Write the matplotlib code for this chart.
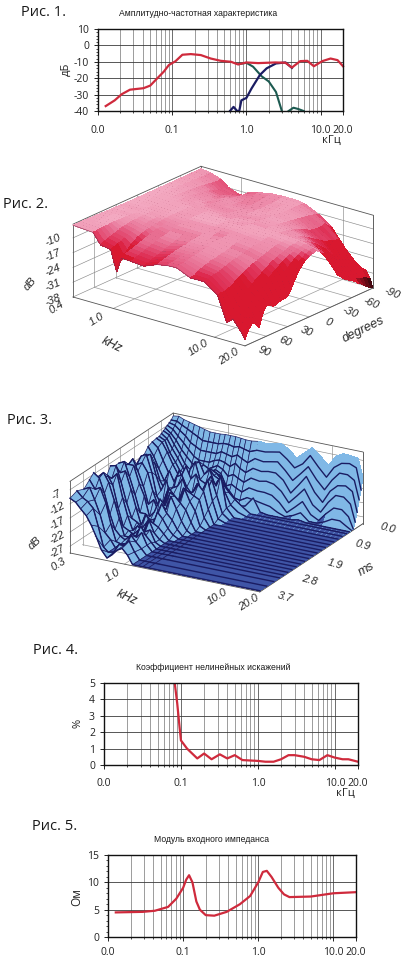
import numpy as np
import matplotlib
matplotlib.use('Agg')
import matplotlib.pyplot as plt
from matplotlib.colors import LinearSegmentedColormap, to_rgba
from matplotlib.ticker import FixedLocator, NullFormatter
from mpl_toolkits.mplot3d import proj3d

W, H = 414, 959
plt.rcParams['font.family'] = ['Liberation Sans', 'DejaVu Sans']
plt.rcParams['axes.unicode_minus'] = False
plt.rcParams['hatch.linewidth'] = 0.35
plt.rcParams['hatch.color'] = '#5f97d0'

# fig 1: frequency response
resp_f = [0.0127, 0.0168, 0.0208, 0.027, 0.041, 0.0506, 0.0625, 0.077, 0.09, 0.111, 0.137, 0.178, 0.243, 0.33,
          0.45, 0.62, 0.77, 1.0, 1.44, 2.45, 3.36, 4.1, 5.3, 6.6, 8.1, 10.5, 13.6, 16.9, 20]
resp_db = [-37, -33.5, -29.8, -27, -26.1, -24.5, -20.2, -16, -12, -9.6, -5.7, -5.3, -5.9, -8,
           -9.4, -10, -11.6, -10.4, -10.8, -10.4, -10.6, -13.5, -9.6, -9.4, -12.7, -9.6, -8, -9, -12.7]
mid_f = [0.6, 0.67, 0.75, 0.8, 0.855, 1.0, 1.17, 1.52, 1.87, 2.5, 3.36, 4.1]
mid_db = [-40, -37.5, -40, -40, -33.5, -32, -26.3, -18, -14, -11, -10.4, -13.7]
woof_f = [0.8, 1.0, 1.23, 1.6, 2.0, 2.5, 3.0]
woof_db = [-11.4, -10.6, -13, -18.8, -22, -28.4, -40]
woof2_f = [3.7, 4.3, 5.0, 5.9]
woof2_db = [-40, -38, -38.8, -40]

# fig 4: distortion
thd_f = [0.083, 0.0895, 0.096, 0.1, 0.12, 0.163, 0.2, 0.25, 0.32, 0.4, 0.5, 0.63, 1.0, 1.25, 1.6, 2, 2.5, 3, 4,
         5, 6.3, 8, 10, 12.6, 15, 20]
thd_pct = [5, 3.75, 2.3, 1.5, 1.0, 0.4, 0.7, 0.35, 0.65, 0.4, 0.6, 0.3, 0.25, 0.2, 0.2, 0.35, 0.6, 0.6, 0.5,
           0.35, 0.3, 0.6, 0.45, 0.35, 0.35, 0.2]

# fig 5: impedance
imp_f = [0.0127, 0.029, 0.042, 0.063, 0.081, 0.1, 0.11, 0.12, 0.133, 0.15, 0.167, 0.2, 0.26, 0.38, 0.57, 0.78,
         1.0, 1.15, 1.3, 1.5, 1.85, 2.2, 2.6, 5, 10, 20]
imp_ohm = [4.5, 4.6, 4.8, 5.5, 7, 9, 10.5, 11.3, 10, 6.5, 5, 4, 3.9, 4.6, 6, 7.5, 10, 11.9, 12.1, 11, 9, 7.8,
           7.3, 7.4, 8, 8.2]

# fig 2: directivity, one row per angle
dir_f = [0.4, 0.5, 0.63, 0.75, 0.94, 1.08, 1.2, 1.5, 2, 2.7, 3.4, 4.2, 5.8, 7.9, 10.7, 13.2, 15.2, 17, 18.5, 20]
dir_deg = [90, 85, 80, 75, 70, 65, 60, 55, 50, 45, 40, 35, 30, 25, 20, 15, 10, 5, 0,
           -5, -10, -15, -20, -25, -30, -35, -40, -45, -50, -55, -60, -65, -70, -75, -80, -85, -90]
dir_db = [
    [-8.4, -8.7, -9, -13.3, -14, -22.6, -16.3, -16.5, -17, -14.8, -14, -13.8, -16.4, -16.3, -20.3, -30.6, -28.3, -31, -33, -35.4],
    [-8.4, -8.7, -9, -12.5, -13.5, -19, -15.5, -16, -16.5, -14.5, -13.8, -13.5, -15.8, -16, -20, -29, -28.5, -30, -30, -32],
    [-8.4, -8.6, -8.8, -12, -13, -17, -15, -15.5, -16, -14, -13.5, -13.2, -15, -15.5, -20, -27, -28, -29, -28, -30],
    [-8.4, -8.6, -8.7, -11.5, -12.5, -15.5, -14.5, -15, -15.5, -13.6, -13.2, -12.9, -14.5, -15.3, -19.5, -25.5, -27, -28.5, -29, -31],
    [-8.5, -8.6, -8.6, -11, -12, -14, -14, -14.5, -15, -13.2, -13, -12.6, -14, -15, -19, -24, -26, -28, -31, -33],
    [-8.5, -8.6, -8.6, -10.5, -11.5, -13, -13.5, -14, -14.5, -12.8, -12.7, -12.3, -13.5, -14.5, -18, -22.5, -24.5, -26.5, -28, -28],
    [-8.6, -8.6, -8.6, -10, -11, -12, -13, -13.5, -14, -12.5, -12.5, -12, -13, -14, -17, -21, -23, -25, -25, -25.4],
    [-8.6, -8.6, -8.6, -9.7, -10.7, -11.5, -12.5, -13, -13.5, -12.2, -12.2, -11.8, -12.8, -13.5, -16, -19.5, -21.8, -24, -25.5, -26],
    [-8.7, -8.6, -8.7, -9.5, -10.5, -11, -12, -12.5, -13, -12, -12, -11.5, -12.5, -13, -15.5, -18.5, -20.5, -23, -26, -27],
    [-8.7, -8.6, -8.7, -9.3, -10.2, -10.7, -11.5, -12.2, -12.5, -11.7, -11.7, -11.2, -12.2, -12.7, -14.7, -17.5, -19.2, -22, -25, -26.5],
    [-8.8, -8.7, -8.8, -9.2, -10, -10.5, -11, -12, -12, -11.5, -11.5, -11, -12, -12.5, -14, -16.5, -18, -21, -24, -26],
    [-8.8, -8.8, -8.9, -9.1, -9.7, -10.2, -10.8, -11.5, -11.5, -11.2, -11.2, -10.7, -11.5, -12, -13.5, -15.5, -17, -19.8, -23.5, -25.8],
    [-8.8, -8.8, -9, -9, -9.5, -10, -10.5, -11, -11, -11, -11, -10.5, -11, -11.5, -13, -14.5, -16, -18.5, -23, -25.6],
    [-8.9, -8.9, -9, -9.1, -9.5, -9.8, -10.2, -10.7, -10.7, -10.7, -10.5, -10.2, -10.7, -11.2, -12.5, -13.7, -15, -17.2, -20.5, -23],
    [-9, -9, -9, -9.2, -9.5, -9.6, -10, -10.5, -10.5, -10.5, -10, -10, -10.5, -11, -12, -13, -14, -16, -18, -20],
    [-9, -9, -9.1, -9.2, -9.5, -9.5, -10, -10.2, -10.2, -10.2, -9.7, -9.7, -10.2, -10.7, -11.5, -12.5, -13.2, -14.7, -16, -17.5],
    [-9, -9, -9.2, -9.3, -9.5, -9.5, -10, -10, -10, -10, -9.5, -9.5, -10, -10.5, -11, -12, -12.5, -13.5, -14.5, -15.5],
    [-9, -9, -9.2, -9.3, -9.5, -9.5, -9.9, -10, -10, -9.9, -9.5, -9.5, -10, -10.2, -10.7, -11.5, -12, -12.7, -13.5, -14],
    [-9, -9, -9.2, -9.3, -9.5, -9.5, -9.8, -10, -10, -9.8, -9.5, -9.5, -10, -10, -10.5, -11, -11.5, -12, -12.5, -13],
    [-9, -9, -9.2, -9.3, -9.5, -9.5, -9.8, -10, -10, -9.9, -9.6, -9.5, -10, -10, -10.5, -10.7, -11.2, -11.7, -12, -12.5],
    [-9, -9, -9.2, -9.3, -9.5, -9.5, -9.8, -10, -10, -10, -9.8, -9.5, -10, -10, -10.5, -10.5, -11, -11.5, -11.5, -12],
    [-9, -9, -9.2, -9.3, -9.6, -9.6, -9.9, -10.1, -10.2, -10.1, -9.9, -9.7, -10.1, -10.2, -10.7, -11, -11.5, -12.2, -12.5, -13],
    [-9, -9, -9.2, -9.4, -9.8, -9.8, -10, -10.2, -10.5, -10.2, -10, -10, -10.2, -10.5, -11, -11.5, -12, -13, -13.5, -14],
    [-9, -9, -9.2, -9.5, -9.9, -9.9, -10.2, -10.5, -10.7, -10.5, -10.2, -10.1, -10.3, -10.7, -11.5, -12.5, -13.5, -15, -16, -17],
    [-9, -9, -9.3, -9.6, -10, -10, -10.5, -10.8, -11, -10.8, -10.5, -10.3, -10.5, -11, -12, -13.5, -15, -17, -18.5, -20],
    [-9, -9, -9.4, -9.8, -10.2, -10.4, -10.7, -11.2, -11.2, -10.9, -10.6, -10.4, -10.7, -11.5, -13, -14.7, -16.7, -19, -21, -23],
    [-9, -9.1, -9.5, -10, -10.5, -10.8, -11, -11.5, -11.5, -11, -10.8, -10.5, -11, -12, -14, -16, -18.5, -21, -24, -26],
    [-9, -9.1, -9.6, -10.2, -10.7, -11.1, -11.2, -11.7, -11.7, -11, -10.9, -10.6, -11.2, -12.7, -15, -17.5, -20, -23, -25.5, -27.5],
    [-9, -9.2, -9.8, -10.5, -11, -11.5, -11.5, -12, -12, -11, -11, -10.8, -11.5, -13.5, -16, -19, -22, -25, -27, -29],
    [-9, -9.2, -9.9, -10.7, -11.5, -11.7, -11.7, -12.2, -12, -11.1, -11, -10.9, -11.7, -14.2, -17, -21, -24, -26.5, -28.5, -30],
    [-9, -9.3, -10, -11, -12, -12, -12, -12.5, -12, -11.2, -11, -11, -12, -15, -18, -23, -26, -28, -30, -31],
    [-9, -9.3, -10.2, -11.5, -12.5, -12.5, -12.2, -12.5, -12, -11.1, -11, -11, -12.2, -15.2, -18.5, -24, -27, -29, -31, -32],
    [-9, -9.4, -10.5, -12, -13, -13, -12.5, -12.5, -12, -11, -11, -11, -12.5, -15.5, -19, -25, -28, -30, -32, -33.5],
    [-9, -9.4, -10.7, -12.5, -13.5, -13.5, -12.7, -12.5, -11.7, -11, -11, -11, -12.7, -15.2, -19.5, -26, -29, -30.5, -32.5, -34.5],
    [-9, -9.5, -11, -13, -14, -14, -13, -12.5, -11.5, -11, -11, -11, -13, -15, -20, -27, -30, -31, -33, -36],
    [-9, -9.5, -11, -13.2, -14.5, -14.5, -13, -12.2, -11.2, -10.8, -10.8, -11.1, -13.5, -16.5, -22.5, -28, -30.5, -31.2, -33.5, -37],
    [-9, -9.5, -11, -13.5, -15, -15, -13, -12, -11, -10.7, -10.7, -11.2, -14, -18, -25, -29, -31, -31.4, -34, -38],
]
dir_floor = -38
dir_stretch = 1.148  # level table above is compressed by this much against the tick scale

# fig 3: decay, one row per time slice; rows stop once they reach the floor level
decay_f = [0.30, 0.34, 0.38, 0.43, 0.48, 0.54, 0.60, 0.68, 0.76, 0.85, 0.95, 1.07, 1.2, 1.35, 1.5, 1.7, 2.0, 2.4,
           2.8, 3.3, 3.9, 4.6, 5.5, 6.5, 7.8, 9.3, 11, 13, 15.5, 18, 20]
decay_ms = [0.0, 0.07, 0.14, 0.21, 0.28, 0.35, 0.42, 0.5, 0.6, 0.75, 0.9, 1.05, 1.2, 1.35, 1.5, 1.65, 1.8, 1.95,
            2.1, 2.25, 2.4, 2.55, 2.7, 2.85, 3.0, 3.2, 3.45, 3.7]
decay_floor = -29
decay_db = [
    [-5, -4.7, -5.5, -6, -6.5, -7, -7.5, -8, -8, -8, -7.8, -7.8, -7.8, -8, -8.2, -8.2, -7.8, -8.0, -7.5, -7.0, -8.5, -11, -8.5, -6.2, -8.5, -11.3, -7.5, -6, -6.2, -6.6, -13],
    [-6, -6, -7, -8, -9, -10, -11, -11, -11, -11, -10.5, -10.5, -11, -10.5, -11, -11.5, -10.5, -10.5, -10, -9.5, -11.5, -14, -12, -8.5, -12, -15, -11, -9, -8.5, -9.5, -17],
    [-6.5, -7, -8.5, -10, -12, -13, -14, -14, -14, -14, -13, -13.5, -14, -13, -14, -15, -13, -13.5, -13, -12.5, -15, -18, -15, -12, -16, -19, -15, -12, -12, -13.5, -20],
    [-7, -8, -10, -12, -14, -16, -17, -17, -17, -16, -15.5, -16, -17, -15.5, -17, -18, -16, -16.5, -16, -16, -18, -22, -18.5, -15, -20, -23, -18.5, -16, -15.5, -17, -24],
    [-7.5, -9, -11, -14, -16, -18, -19, -19, -19, -18, -17, -18, -20, -19, -20, -21, -19, -19.5, -19, -19.5, -21.5, -25, -22, -19, -24, -26, -22, -19, -19, -21, -27],
    [-8, -9, -12, -15, -18, -20, -21, -21, -20, -19, -18, -19, -23, -22, -23, -24, -22, -22.5, -22.5, -23, -25, -28, -25.5, -23, -27, -28.5, -25.5, -23, -23, -25, -29],
    [-8.5, -10, -13, -16, -19, -21, -22, -22, -21, -19, -18, -19, -22, -24, -26, -26.5, -25, -25.5, -26, -26.5, -28, -29, -28, -26.5, -29, -29, -28, -26.5, -26.5, -28, -29],
    [-9, -10, -14, -17, -20, -22, -23, -22, -21, -18, -17, -18, -20, -23, -26, -28, -27.5, -24, -28.5, -29, -29, -29, -29, -28.5, -29, -29, -29, -29, -29, -29, -29],
    [-9, -10, -13, -17, -20, -22, -22, -20, -17, -15, -16, -18, -19, -21, -23, -25, -27],
    [-9.3, -11, -15, -19, -22, -20, -18, -20, -14, -13, -17, -15, -20, -17, -22, -26, -28],
    [-10, -13, -17, -21, -17, -21, -16, -22, -15, -12, -18, -19, -16, -19, -15, -26],
    [-12, -14, -14, -20, -23, -25, -19, -17, -13, -17, -15, -21, -20, -16, -21, -27],
    [-13, -11, -10, -17, -22, -18, -24, -16, -15, -19, -21, -17, -19, -15, -22, -28],
    [-14, -10, -9, -15, -23, -26, -21, -19, -18, -15, -20, -19, -16, -18, -24],
    [-15, -12, -11, -14, -20, -25, -25, -18, -20, -22, -17, -18, -19, -20, -26],
    [-12, -9, -13, -18, -24, -22, -26, -23, -17, -19, -21, -16, -20, -23, -28],
    [-10.5, -10, -10, -16, -20, -27, -25, -20, -22, -17, -18, -20, -22, -26],
    [-9, -8, -13, -19, -25, -25, -27, -26, -21, -22, -17, -21, -25, -28],
    [-9, -11, -10, -16, -22, -28, -24, -27, -24, -19, -22, -24, -27],
    [-8, -7.5, -13, -20, -25, -26, -28, -25, -26, -21, -23, -26, -28],
    [-11, -11, -9, -17, -23, -28, -26, -28, -23, -24, -25, -27],
    [-12, -9, -12, -20, -26, -27, -28, -26, -27, -22, -26, -28],
    [-9, -7, -10, -16, -22, -28, -28, -28, -25, -25, -24, -28],
    [-6.5, -8, -13, -20, -25, -27, -28, -26, -26, -22, -25, -27],
    [-8, -11, -10, -15, -22, -28, -28.5, -28, -24, -25, -23, -27],
    [-10, -9, -13, -18, -24, -26, -28.5, -27, -27, -23, -25, -27],
    [-9, -11, -12, -14, -20, -27, -28.5, -28, -25, -25, -23, -26.5],
    [-10, -11, -13, -15, -18, -22, -26, -28.5, -27, -25, -24, -26],
]

TICK_F = [0.01, 0.1, 1, 10, 20]
TICK_F_LABELS = ['0.0', '0.1', '1.0', '10.0', '20.0']
RED = '#cf2a3c'
NAVY = '#1a1c62'
GREEN = '#1c5a50'
UI_FONT = ['Open Sans', 'DejaVu Sans']

fig = plt.figure(figsize=(W / 100, H / 100), dpi=100, facecolor='white')


def px_text(x, y, s, **kw):
    kw.setdefault('ha', 'center')
    kw.setdefault('va', 'center')
    fig.text(x / W, 1 - y / H, s, **kw)


def caption(x, y, s):
    px_text(x, y, s, ha='left', fontsize=10.5, family=UI_FONT, color='#1a1a1a')


def freq_axes(left, right, top, bottom, ymin, ymax, major, minor, pad):
    ax = fig.add_axes([left / W, 1 - bottom / H, (right - left) / W, (bottom - top) / H])
    ax.set_xscale('log')
    ax.set_xlim(0.01, 20)
    ax.set_ylim(ymin, ymax)
    ax.set_xticks(TICK_F)
    ax.set_xticklabels(TICK_F_LABELS)
    ax.xaxis.set_minor_locator(FixedLocator([m * d for d in (0.01, 0.1, 1) for m in range(2, 10)]))
    ax.xaxis.set_minor_formatter(NullFormatter())
    ax.set_yticks(major)
    ax.yaxis.set_minor_locator(FixedLocator(minor))
    ax.grid(which='minor', axis='x', color='#8c8c8c', lw=0.6)
    ax.grid(which='major', axis='x', color='#555555', lw=0.6)
    ax.grid(which='major', axis='y', color='#3a3a3a', lw=0.6)
    ax.tick_params(which='major', labelsize=7.5, length=3, width=0.6, labelcolor='#222222',
                   labelfontfamily='Open Sans')
    ax.tick_params(which='major', axis='x', pad=pad)
    ax.tick_params(which='minor', length=1.5, width=0.5)
    for sp in ax.spines.values():
        sp.set_linewidth(1.0)
        sp.set_color('#111111')
    ax.set_axisbelow(True)
    return ax


# 2D response panels
caption(21, 13, 'Рис. 1.')
px_text(198, 13, 'Амплитудно-частотная характеристика', fontsize=6.2, color='#1a1a1a')
ax1 = freq_axes(98, 343, 29, 111, -40, 10, [-40, -30, -20, -10, 0, 10], list(range(-40, 10, 2)), 7)
ax1.plot(woof_f, woof_db, color=GREEN, lw=1.5, clip_on=False)
ax1.plot(woof2_f, woof2_db, color=GREEN, lw=1.5, clip_on=False)
ax1.plot(mid_f, mid_db, color=NAVY, lw=1.6, clip_on=False)
ax1.plot(resp_f, resp_db, color=RED, lw=1.6, clip_on=False)
px_text(66, 69, 'дБ', rotation=90, fontsize=8, family=UI_FONT, color='#222222')
px_text(331, 140, 'кГц', fontsize=8, family=UI_FONT, color='#222222')

caption(33, 650, 'Рис. 4.')
px_text(213, 667, 'Коэффициент нелинейных искажений', fontsize=6.2, color='#1a1a1a')
ax4 = freq_axes(104, 358, 683, 765, 0, 5, [0, 1, 2, 3, 4, 5], [], 6)
ax4.plot(thd_f, thd_pct, color=RED, lw=1.6)
px_text(78, 723, '%', rotation=90, fontsize=8, family=UI_FONT, color='#222222')
px_text(345, 793, 'кГц', fontsize=8, family=UI_FONT, color='#222222')

caption(32, 827, 'Рис. 5.')
px_text(212, 839, 'Модуль входного импеданса', fontsize=6.2, color='#1a1a1a')
ax5 = freq_axes(108, 356, 855, 937, 0, 15, [0, 5, 10, 15], list(range(0, 15, 1)), 4)
ax5.plot(imp_f, imp_ohm, color=RED, lw=1.6)
px_text(77, 897, 'Ом', rotation=90, fontsize=8.5, family=UI_FONT, color='#222222')


def box_axes(xlim, ylim, zlim, aspect, elev, azim):
    ax = fig.add_axes([0, 0, 500 / W, 500 / H], projection='3d', proj_type='ortho')
    ax.set_xlim(*xlim)
    ax.set_ylim(*ylim)
    ax.set_zlim(*zlim)
    ax.view_init(elev=elev, azim=azim)
    ax.set_box_aspect(aspect)
    ax.computed_zorder = False
    ax.set_axis_off()
    ax.patch.set_visible(False)
    return ax


def to_px(ax, x, y, z):
    xs, ys, _ = proj3d.proj_transform(x, y, z, ax.get_proj())
    return ax.transData.transform((xs, ys))


def fit_box(ax, aspect, corner_a, corner_b, target_a, target_b):
    # scale and slide the square axes so two box corners land at the given pixels
    fig.canvas.draw()
    pa, pb = to_px(ax, *corner_a), to_px(ax, *corner_b)
    ax.set_box_aspect(aspect, zoom=(target_b[0] - target_a[0]) / (pb[0] - pa[0]))
    pa = to_px(ax, *corner_a)
    pos = ax.get_position()
    ax.set_position([pos.x0 + (target_a[0] - pa[0]) / W, pos.y0 + ((H - target_a[1]) - pa[1]) / H,
                     pos.width, pos.height])
    ax.apply_aspect()


def box_label(ax, x, y, z, s, rotation, size=8):
    # rotated label pinned to a point of the 3D box
    px, py = to_px(ax, x, y, z)
    fig.text(px / W, py / H, s, rotation=rotation, fontsize=size, style='italic', ha='center', va='center',
             color='#2a2a2a', rotation_mode='anchor', family=['Liberation Sans', 'DejaVu Sans'])


def box_grid(ax, x0, x1, y0, y1, z0, z1, xticks, yticks, zticks):
    # walls at x0 and y1, floor at z0
    wall = dict(color='#8a8a8a', lw=0.45, zorder=1)
    floor = dict(color='#9c9c9c', lw=0.5, zorder=1)
    for z in zticks:
        ax.plot([x0, x0], [y0, y1], [z, z], **wall)
        ax.plot([x0, x1], [y1, y1], [z, z], **wall)
    for x in xticks:
        ax.plot([x, x], [y1, y1], [z0, z1], **wall)
        ax.plot([x, x], [y0, y1], [z0, z0], **floor)
    for y in yticks:
        ax.plot([x0, x0], [y, y], [z0, z1], **wall)
        ax.plot([x0, x1], [y, y], [z0, z0], **floor)
    edge = dict(color='#555555', lw=0.6, zorder=2)
    ax.plot([x0, x1], [y0, y0], [z0, z0], **edge)
    ax.plot([x1, x1], [y0, y1], [z0, z0], **edge)
    ax.plot([x0, x0], [y0, y0], [z0, z1], **edge)
    ax.plot([x1, x1], [y1, y1], [z0, z1], **edge)
    ax.plot([x0, x0], [y1, y1], [z0, z1], **edge)
    ax.plot([x0, x1], [y1, y1], [z1, z1], **edge)
    ax.plot([x0, x0], [y0, y1], [z1, z1], **edge)


# fig 2: directivity surface
caption(3, 205, 'Рис. 2.')
asp2 = (219.5, 206, 78)
lx2 = np.log10(dir_f)
ax2 = box_axes((lx2[0], lx2[-1]), (90, -90), (-38, -3.5), asp2, 21, -51.6)
fit_box(ax2, asp2, (lx2[0], 90, -38), (lx2[-1], -90, -38), (73, 297), (373, 288))
box_grid(ax2, lx2[0], lx2[-1], 90, -90, -38, -3.5, [0, 1, lx2[-1]], [60, 30, 0, -30, -60],
         [-38, -31, -24, -17, -10])
raw2 = np.array(dir_db)
Z2 = dir_floor + (raw2 - dir_floor) * dir_stretch
deg2 = np.array(dir_deg)
# slopes in box units: flat parts stay pink, steep or low parts turn red, the far low corner goes black
dz_dr, dz_dc = np.gradient(raw2 * 78 / 30)
steep = np.hypot(dz_dc / (np.gradient(lx2) * 219.5 / (lx2[-1] - lx2[0])), dz_dr / (206 / 36))
tone = np.maximum(steep / 0.8, (-raw2 - 10.5) / 7)
cmap2 = LinearSegmentedColormap.from_list('rose', ['#f3a9c1', '#ec86a6', '#e55a80', '#de2b50', '#d9182f'])
face2 = cmap2(np.clip(tone, 0, 1))
dark = np.clip((-raw2 - 31) / 3.5, 0, 1) * (deg2[:, None] <= -55)
face2[..., :3] *= (1 - 0.95 * dark)[..., None]
for i in range(len(dir_deg) - 2, -1, -1):
    xs = np.tile(lx2, (2, 1))
    ys = np.array([[dir_deg[i]] * len(lx2), [dir_deg[i + 1]] * len(lx2)])
    ax2.plot_surface(xs, ys, Z2[i:i + 2], rstride=1, cstride=1, facecolors=face2[i:i + 2], shade=False,
                     edgecolor='none', linewidth=0, antialiased=False, zorder=10 + 2 * (36 - i))
    ax2.plot(lx2, ys[0], Z2[i], color='#8a2a4c', lw=0.42, zorder=11 + 2 * (36 - i))
for z in [-10, -17, -24, -31, -38]:
    box_label(ax2, lx2[0] - 0.04, 112, z + 1.5, str(z), 22)
for f, s in [(0.4, '0.4'), (1, '1.0'), (10, '10.0'), (20, '20.0')]:
    box_label(ax2, np.log10(f) + 0.04, 119, -38, s, 32)
for d, s in [(90, '90'), (60, '60'), (30, '30'), (0, '0'), (-30, '-30'), (-60, '-60'), (-90, '-90')]:
    box_label(ax2, lx2[-1] + 0.19, d, -38, s, -22)
box_label(ax2, 0.48, 160, -38, 'kHz', -26, 9)
box_label(ax2, 1.804, -4.4, -38, 'degrees', 26, 9)
box_label(ax2, -0.838, 88, -38, 'dB', 48)

# fig 3: decay waterfall
caption(7, 420, 'Рис. 3.')
asp3 = (217, 212, 77)
lx3 = np.log10(decay_f)
ax3 = box_axes((lx3[0], lx3[-1]), (3.7, 0), (-29.4, -4), asp3, 21.6, -60.9)
fit_box(ax3, asp3, (lx3[0], 3.7, -29.4), (lx3[-1], 0, -29.4), (70, 553), (363, 525))
box_grid(ax3, lx3[0], lx3[-1], 3.7, 0, -29.4, -4, [0, 1, lx3[-1]], [0.45, 0.9, 1.4, 1.9, 2.35, 2.8, 3.25],
         [-27, -22, -17, -12, -7])
Z3 = np.array([row + [decay_floor] * (len(decay_f) - len(row)) for row in decay_db])
LOW = 16  # columns below this index carry the dense ridge lines
for i in range(len(decay_ms) - 1):
    xs = np.tile(lx3, (2, 1))
    ys = np.array([[decay_ms[i]] * len(lx3), [decay_ms[i + 1]] * len(lx3)])
    zs = Z3[i:i + 2]
    flat = zs.max(axis=0) <= -28.5
    cols = np.where(flat[..., None], to_rgba('#3f55a6'), to_rgba('#80b8e6'))
    cols = np.stack([cols, cols])
    ax3.plot_surface(xs[:, :LOW + 1], ys[:, :LOW + 1], zs[:, :LOW + 1], rstride=1, cstride=1,
                     facecolors=cols[:, :LOW + 1], shade=False, edgecolor=NAVY, linewidth=0.5,
                     zorder=10 + 2 * i)
    high = ax3.plot_surface(xs[:, LOW:], ys[:, LOW:], zs[:, LOW:], rstride=1, cstride=1,
                            facecolors=cols[:, LOW:], shade=False, edgecolor='none', linewidth=0,
                            antialiased=False, zorder=10 + 2 * i)
    high.set_hatch('//////')
    if i > 0:
        ax3.plot(lx3, ys[0], zs[0], color=NAVY, lw=1.0, zorder=11 + 2 * i)
ax3.plot(lx3, [decay_ms[-1]] * len(lx3), Z3[-1], color=NAVY, lw=1.0, zorder=90)
for z in [-7, -12, -17, -22, -27]:
    box_label(ax3, lx3[0] - 0.04, 4.02, z, str(z), 28)
for f, s in [(0.3, '0.3'), (1, '1.0'), (10, '10.0'), (20, '20.0')]:
    box_label(ax3, np.log10(f) + 0.04, 4.25, -29.4, s, 32)
for t, s in [(0.0, '0.0'), (0.9, '0.9'), (1.9, '1.9'), (2.8, '2.8'), (3.7, '3.7')]:
    box_label(ax3, lx3[-1] + 0.24, t, -29.4, s, -16)
box_label(ax3, 0.39, 5.08, -29.4, 'kHz', -24, 9)
box_label(ax3, 1.826, 1.84, -29.4, 'ms', 30, 9)
box_label(ax3, -0.89, 3.59, -29.4, 'dB', 42)

fig.savefig('out.png', dpi=100, facecolor='white')
